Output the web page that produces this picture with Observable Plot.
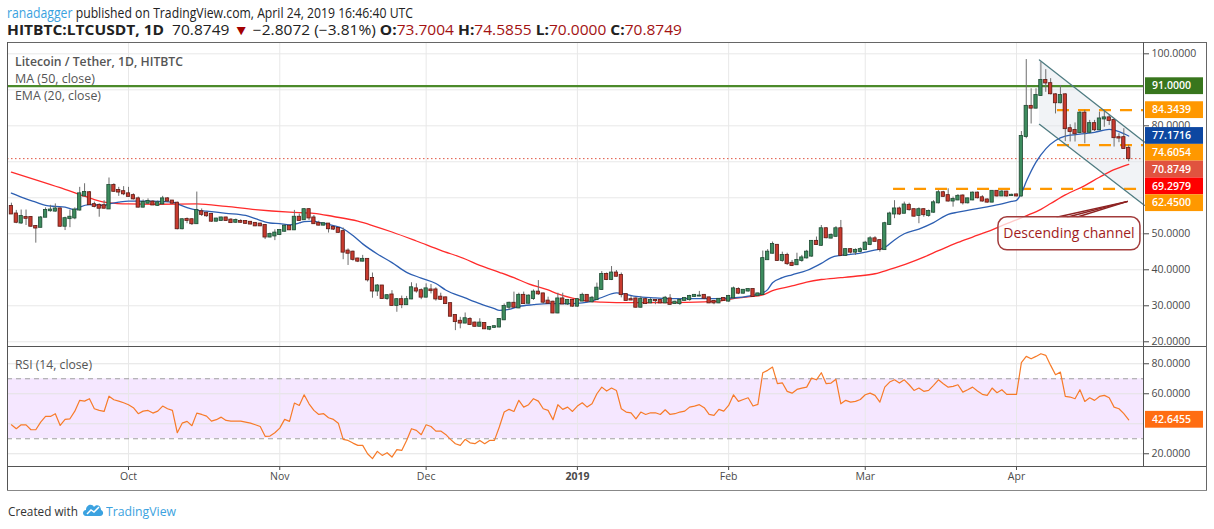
<!DOCTYPE html>
<html><head><meta charset="utf-8">
<script src="https://cdn.jsdelivr.net/npm/d3@7"></script>
<script src="https://cdn.jsdelivr.net/npm/@observablehq/plot@0.6"></script>
<style>
body{margin:0;background:#fff;font-family:"Open Sans",sans-serif;}
#wrap{position:relative;width:1214px;height:529px;overflow:hidden;background:#fff}
.abs{position:absolute;white-space:nowrap;line-height:16px}
.ln{position:absolute;background:#555}
svg{max-width:none !important}
</style></head><body><div id="wrap"></div><script>
// ---------- DATA ----------
const firstCandle = "2018-09-07";
const opens = [57.6,55.5,53.0,54.5,54.5,52.0,51.8,54.6,56.4,56.3,56.9,52.1,54.2,54.4,56.6,60.5,61.4,58.1,57.9,57.8,56.9,63.4,62.0,61.7,61.1,60.6,59.7,57.4,58.5,58.8,57.9,58.3,59.7,59.1,58.5,51.4,54.0,53.9,52.8,
56.1,55.7,55.4,53.5,53.7,54.4,53.8,53.2,53.4,53.4,53.2,52.9,52.7,52.3,49.1,49.4,49.8,50.7,52.1,51.1,54.6,53.9,56.7,54.4,52.9,52.4,52.7,51.8,51.5,50.6,45.2,44.9,43.0,42.4,42.9,37.6,34.1,35.5,32.0,
33.0,30.1,31.7,30.3,31.9,34.7,34.2,32.4,34.4,34.4,32.4,32.2,30.6,27.3,25.7,25.2,26.2,25.2,24.3,25.1,23.5,24.0,24.1,26.1,29.6,30.7,29.4,32.9,30.7,32.0,33.8,33.3,31.3,31.0,28.0,31.9,30.5,31.5,29.9,
31.3,32.9,31.1,31.7,34.5,38.7,37.3,39.1,38.4,33.1,31.7,31.9,29.6,31.7,30.8,31.5,31.5,30.8,31.9,30.6,30.6,31.5,31.7,32.6,32.7,32.9,32.2,31.2,30.8,32.0,31.3,32.2,34.5,33.5,34.1,34.5,32.8,33.1,42.8,
44.6,46.8,42.6,44.0,41.8,41.4,42.6,43.3,43.8,47.9,46.8,51.4,48.8,49.3,51.4,44.0,45.6,44.9,45.1,45.6,47.0,48.6,48.1,45.6,52.6,55.5,56.9,55.7,57.9,56.7,55.1,56.7,55.1,56.0,58.6,61.4,60.6,59.1,59.4,
60.5,58.6,59.4,61.3,60.0,59.4,58.8,61.8,60.5,61.6,60.6,60.8,60.5,77.0,85.4,84.9,88.4,92.6,91.7,88.6,86.4,88.6,79.2,78.7,78.1,83.5,78.2,80.6,78.9,81.9,82.2,81.5,76.7,76.7,73.7004];
const highs = [58.5,56.5,56.6,56.6,54.8,52.3,54.8,57.2,57.9,58.3,57.2,54.6,56.6,57.2,62.9,63.9,61.7,58.8,58.3,59.2,65.5,63.9,62.9,63.1,62.9,61.1,60.2,59.4,59.7,59.2,59.1,60.4,60.0,59.2,58.8,54.2,54.4,54.2,61.6,
56.9,56.0,55.6,54.3,54.6,54.6,54.2,54.1,53.9,53.6,53.4,53.1,52.9,52.5,50.2,51.1,51.1,52.4,52.4,56.5,55.5,57.0,57.0,55.1,53.5,52.9,52.8,52.0,51.7,51.6,45.8,45.2,43.2,44.0,43.0,39.1,35.9,35.6,33.1,
34.2,32.0,32.7,32.6,36.4,36.1,34.7,36.1,35.9,35.0,33.5,32.4,30.7,27.5,26.8,28.0,26.7,25.5,26.4,25.3,24.2,24.3,26.4,30.5,31.0,33.8,33.5,33.8,33.0,34.4,37.0,33.5,32.4,31.3,33.5,33.5,31.7,31.7,32.0,
33.5,33.1,32.6,36.3,39.5,39.1,40.9,39.8,39.1,33.3,32.6,32.2,32.6,32.1,32.0,31.6,31.6,32.6,33.1,31.3,32.0,32.2,32.9,33.1,34.0,33.1,32.4,31.5,32.0,32.2,32.9,35.2,35.0,34.5,34.7,34.7,33.5,45.2,45.6,
47.7,47.0,44.9,44.6,42.6,44.6,44.0,45.4,48.1,49.1,52.3,51.7,50.0,52.0,53.7,45.8,45.8,45.8,46.1,47.9,49.2,49.2,48.3,53.2,56.0,59.2,57.4,58.8,58.5,56.9,57.2,56.9,56.6,59.2,62.0,61.8,62.5,60.2,60.9,
60.8,59.9,61.6,61.6,60.6,59.7,62.0,62.0,62.0,61.8,61.0,61.0,78.4,98.4,90.3,90.3,97.7,95.6,93.1,88.9,91.2,88.9,80.3,80.8,84.0,84.3,81.5,81.5,83.8,84.3,82.9,81.9,77.8,79.2,74.5855];
const lows = [55.4,52.8,52.6,52.3,51.8,47.4,51.7,54.6,56.0,56.0,51.8,50.9,51.7,53.9,56.3,60.4,57.9,57.2,54.6,56.9,56.9,61.6,60.4,60.6,60.2,59.4,57.2,57.2,58.3,57.9,57.6,58.0,58.8,58.3,51.1,51.1,52.8,52.3,52.6,
54.8,54.6,53.2,53.3,53.5,53.5,53.0,52.9,52.9,52.7,52.5,52.0,52.0,48.4,48.9,48.1,49.5,50.5,50.9,50.9,53.5,53.7,53.7,52.6,52.2,52.2,50.2,50.9,50.2,42.8,41.2,42.4,42.0,42.2,36.6,32.1,32.6,31.9,31.5,
29.9,28.2,29.2,30.1,31.7,33.5,31.7,32.2,33.3,31.3,31.5,30.4,27.0,23.1,23.6,25.0,24.6,24.1,24.2,23.4,23.1,23.8,23.9,25.9,28.7,29.4,29.2,30.4,30.5,31.5,32.9,30.4,30.4,27.8,27.8,30.4,30.1,29.6,29.6,
31.3,31.1,30.8,31.5,34.3,37.0,37.0,38.0,32.2,31.3,31.5,29.4,29.4,30.4,30.6,30.3,30.6,30.6,30.2,30.4,30.1,31.3,31.3,32.4,32.5,31.7,30.6,30.3,30.6,31.3,31.0,31.9,33.1,33.3,33.8,32.4,32.6,32.9,42.6,
44.4,42.4,42.1,41.2,40.9,41.2,42.1,43.0,43.5,46.8,46.5,48.6,48.6,49.0,43.7,43.7,44.4,44.0,44.7,45.4,46.7,47.7,44.9,45.4,52.3,54.2,55.1,55.6,56.3,54.6,52.8,54.6,54.6,55.7,58.3,60.2,58.8,57.4,59.2,
58.0,58.3,59.2,59.7,58.8,58.5,58.6,60.2,60.4,60.2,60.4,60.3,60.2,76.4,80.5,84.7,88.2,89.3,88.6,83.3,86.1,75.6,75.5,75.5,77.8,75.0,77.8,78.4,78.7,79.6,80.1,74.1,75.3,73.6,70.0];
const closes = [55.5,53.2,54.8,54.3,52.1,51.6,54.4,56.5,56.6,56.9,52.1,54.2,54.6,56.6,61.1,61.5,58.1,57.6,57.1,57.1,63.4,61.8,61.6,61.1,60.4,59.7,57.4,58.7,59.0,58.0,58.6,59.7,59.1,58.5,51.4,53.9,53.7,52.8,56.5,
55.4,55.0,53.5,54.1,54.4,53.7,53.1,53.7,53.2,52.9,52.7,52.2,52.2,49.1,49.8,50.2,50.9,52.1,51.1,54.6,53.7,56.7,54.4,52.8,52.4,52.8,51.4,51.3,50.4,44.9,44.6,42.9,42.4,42.9,37.2,34.1,35.5,32.0,32.8,
30.1,31.7,30.3,31.7,35.0,34.1,32.4,34.7,34.2,31.9,31.8,30.6,27.1,25.6,25.2,26.4,24.8,24.3,25.2,23.6,24.0,24.2,26.2,29.8,30.7,29.6,32.9,30.6,32.7,33.8,33.3,31.0,30.7,28.0,31.9,30.5,31.5,29.9,31.7,
32.9,31.3,32.1,34.9,38.7,37.3,39.1,38.2,33.1,31.5,31.6,29.6,31.8,30.6,31.5,31.4,30.8,32.1,30.4,31.0,31.5,32.0,32.6,32.9,32.7,32.1,30.8,30.8,31.8,31.5,32.6,34.7,33.5,34.3,34.5,32.6,33.3,43.1,44.9,
47.0,42.6,44.0,41.7,41.2,42.6,43.3,44.9,47.9,47.0,51.4,48.9,49.5,51.4,44.0,45.6,44.9,45.4,45.6,47.4,48.6,47.9,45.6,52.8,55.5,56.9,55.5,58.0,56.7,54.9,56.7,55.3,56.2,58.6,61.4,60.4,59.1,59.5,60.4,
58.6,59.7,61.3,60.0,59.1,58.8,61.8,60.5,61.6,60.5,60.7,60.5,77.0,85.4,84.9,88.4,92.6,91.9,88.9,86.4,88.4,79.2,78.4,77.8,83.5,78.2,80.6,78.9,81.9,82.2,81.5,76.7,76.6,73.68,70.8749];
const rsiValues = [39.3,36.7,39.3,39.3,36.0,36.0,41.1,44.9,44.9,46.7,
38.9,42.9,43.3,48.4,55.6,55.1,56.7,50.0,48.9,48.2,
58.4,56.0,55.1,54.0,52.7,50.7,46.7,48.4,48.9,47.1,
48.4,51.8,50.0,48.9,34.0,40.4,41.6,38.7,47.1,46.2,
45.1,41.8,42.7,44.4,42.2,41.8,41.8,41.8,41.1,40.4,
39.3,38.2,31.6,31.8,34.0,37.1,42.9,41.6,53.8,52.2,
59.3,53.3,48.9,46.2,46.7,44.0,42.9,40.4,29.6,28.9,
27.1,25.6,25.6,20.0,16.7,21.6,18.9,20.7,17.8,22.7,
22.2,28.9,36.7,35.6,32.7,39.3,38.2,35.1,35.1,32.9,
29.6,26.7,25.6,29.6,27.3,26.7,28.9,26.7,28.9,28.9,
37.8,47.8,49.6,48.2,55.6,51.1,52.7,56.7,55.1,50.0,
48.9,42.7,52.7,49.6,51.1,48.2,51.8,54.0,51.1,53.3,
60.0,64.4,
61.8,63.8,62.2,50.0,47.8,47.3,43.3,47.8,46.2,47.3,
47.3,46.2,49.3,46.2,46.7,47.8,48.4,51.1,51.8,52.7,
50.7,46.2,45.6,49.6,48.4,52.2,59.3,54.9,56.2,57.3,
51.8,52.9,74.0,75.6,77.8,66.7,67.3,61.6,60.4,62.9,
63.8,64.4,70.4,69.3,74.0,66.7,67.1,69.6,53.3,55.6,
54.4,54.9,56.2,59.3,60.4,58.9,54.4,64.4,67.8,69.3,
67.1,69.3,66.0,62.2,63.8,61.6,62.2,65.6,69.3,66.7,
64.4,64.9,66.0,61.1,62.7,64.4,61.8,59.6,58.9,63.8,
60.7,62.7,59.6,59.6,59.6,80.7,84.9,83.3,84.9,86.7,
85.6,78.9,72.7,74.4,58.2,57.8,56.7,62.7,54.9,57.3,
55.6,58.2,58.9,57.3,51.1,50.0,46.7,42.6455];
// EMA (20) and MA (50) at these candle numbers
const emaDays = [0,3,5,7,9,11,13,14,16,19,20,22,24,28,33,34,36,38,40,44,48,50,53,55,57,59,60,62,63,66,68,70,72,75,78,81,84,87,89,93,96,99,100,102,104,107,110,113,115,117,119,121,124,126,128,132,135,145,149,152,154,155,156,158,160,163,166,168,170,173,175,178,179,181,183,186,189,192,194,197,200,203,205,206,207,208,210,212,214,216,220,222,225,227,229];
const emaValues = [61.3,59.7,58.8,57.9,57.6,57.4,56.7,57.4,58.1,57.9,58.3,58.8,59.1,59.1,58.8,58.3,57.3,56.6,56.3,55.7,55.1,54.2,53.0,52.8,52.5,53.0,53.4,53.5,53.2,52.3,51.4,49.5,47.2,44.4,42.0,39.3,37.7,36.2,34.4,32.2,30.6,29.2,28.7,29.0,29.8,30.3,30.6,30.6,30.6,30.8,31.3,32.3,33.6,33.2,32.6,32.2,32.0,32.0,32.3,32.9,33.6,34.5,36.4,37.8,38.6,39.8,41.8,43.4,44.0,44.4,44.9,45.8,46.2,48.3,50.0,51.3,53.1,55.4,56.0,56.8,57.5,58.3,59.0,59.3,61.3,64.5,69.9,73.6,75.9,77.1,77.8,78.2,79.0,78.4,77.1716];
const maDays = [0,5,10,14,17,20,24,30,38,44,50,57,62,66,71,74,78,83,88,93,96,100,103,106,110,112,115,118,121,124,135,142,145,149,152,154,156,160,163,166,170,173,177,180,184,187,190,194,197,201,204,208,211,213,216,220,223,226,229];
const maValues = [67.1,65.0,62.8,60.9,59.5,58.6,58.3,58.2,58.3,57.6,56.7,56.0,55.7,54.8,53.5,52.3,50.5,48.0,45.4,43.0,41.2,39.3,37.8,36.1,34.4,33.3,32.1,31.3,31.0,30.9,30.9,31.1,31.3,32.2,32.6,33.0,34.2,35.5,36.6,37.3,37.8,38.2,38.9,40.1,41.9,43.5,45.3,47.6,49.1,51.1,52.8,55.0,56.8,58.4,60.8,63.4,65.7,67.8,69.2979];
// drawings (candle numbers / prices)
const supportLevel = 91;
const rangeLevels = [84.3439, 74.6054];
const rangeStartDay = 214.4;
const baseLevel = 62.45;
const baseStartDay = 180.8;
const channelDays = [210.7, 232.2];
const channelUpper = [98.3, 75.5];
const channelLower = [80.4, 57.9];
const noteText = "Descending channel";
const noteDays = [202.3, 231.4];
const notePrices = [45.4, 54.6];
const noteArrowFrom = [214.2, 216.3, 218.3];
const noteArrowFromPrice = 54.6;
const noteArrowTo = [228.8, 59.0];
// axes
const priceGrid = [20,30,40,50,60,70,80,90,100];
const priceTickLabels = [20,30,40,50,80,100];
const rsiGrid = [20,40,60,80];
const rsiTickLabels = [20,60,80];
const monthTicks = ["2018-10-01","2018-11-01","2018-12-01","2019-01-01","2019-02-01","2019-03-01","2019-04-01"];
const monthLabels = ["Oct","Nov","Dec","2019","Feb","Mar","Apr"];
const priceLabels = [91, 84.3439, 77.1716, 74.6054, 70.8749, 69.2979, 62.45];
const priceLabelColors = ["#38761d","#ff9800","#0d47a1","#ff9800","#e0533f","#ff0000","#ff9800"];
const rsiLast = 42.6455;

// ---------- BUILD ----------
const DAY = 864e5;
const t0 = Date.parse(firstCandle + "T00:00:00Z");
const dateAt = i => new Date(t0 + i * DAY);
const oct1 = Date.UTC(2018, 9, 1);
const xDomain = [new Date(oct1 - 24.8 * DAY), new Date(oct1 + 208.03 * DAY)];
const candles = opens.map((o, i) => ({date: dateAt(i), o, h: highs[i], l: lows[i], c: closes[i]}));
const up = candles.filter(d => d.c >= d.o), down = candles.filter(d => d.c < d.o);
const ema = emaDays.map((d, i) => ({date: dateAt(d), v: emaValues[i]}));
const ma = maDays.map((d, i) => ({date: dateAt(d), v: maValues[i]}));
const rsi = rsiValues.map((v, i) => ({date: dateAt(i), v}));
const months = monthTicks.map(s => new Date(s + "T00:00:00Z"));
const lastClose = closes[closes.length - 1];
const font = "'Open Sans', sans-serif";

const body = (arr, fill, stroke) => Plot.rect(arr, {
  x1: d => new Date(+d.date - 0.34 * DAY), x2: d => new Date(+d.date + 0.34 * DAY),
  y1: d => Math.min(d.o, d.c), y2: d => Math.max(d.o, d.c),
  fill, stroke, strokeWidth: 0.8, insetTop: -0.5, insetBottom: -0.5
});

const main = Plot.plot({
  width: 1214, height: 304, marginLeft: 7, marginRight: 71, marginTop: 0, marginBottom: 0,
  style: {fontFamily: font, fontSize: "10.5px", color: "#4a4a4a", background: "transparent", overflow: "visible"},
  x: {type: "utc", domain: xDomain, axis: null},
  y: {domain: [18.69, 103.14], axis: "right", ticks: priceTickLabels, tickFormat: d => d.toFixed(4), tickSize: 5, tickPadding: 3, label: null},
  marks: [
    Plot.ruleY(priceGrid, {stroke: "#e8e8e8"}),
    Plot.ruleX(months, {stroke: "#e8e8e8"}),
    Plot.areaY([0, 1], {x: i => dateAt(channelDays[i]), y1: i => channelLower[i], y2: i => channelUpper[i], fill: "#dfe4ea", fillOpacity: 0.45}),
    Plot.ruleY([supportLevel], {stroke: "#4b8a2a", strokeWidth: 2.2}),
    Plot.ruleY(rangeLevels, {x1: dateAt(rangeStartDay), x2: xDomain[1], stroke: "#ff9800", strokeWidth: 2.2, strokeDasharray: "12,9"}),
    Plot.ruleY([baseLevel], {x1: dateAt(baseStartDay), x2: xDomain[1], stroke: "#ff9800", strokeWidth: 2.2, strokeDasharray: "12,9"}),
    Plot.ruleY([lastClose], {stroke: "#e0533f", strokeWidth: 1, strokeDasharray: "1.5,2.5"}),
    Plot.line(ma, {x: "date", y: "v", stroke: "#ff2b2b", strokeWidth: 1.3, curve: "monotone-x"}),
    Plot.line(ema, {x: "date", y: "v", stroke: "#2d5fb2", strokeWidth: 1.3, curve: "monotone-x"}),
    Plot.ruleX(candles, {x: "date", y1: "l", y2: "h", stroke: "#6e6e6e", strokeWidth: 1}),
    body(up, "#3d8c5e", "#1e4a33"),
    body(down, "#c83a2e", "#5e1a14"),
    Plot.line([0, 1], {x: i => dateAt(channelDays[i]), y: i => channelUpper[i], stroke: "#4f7c82", strokeWidth: 1.3}),
    Plot.line([0, 1], {x: i => dateAt(channelDays[i]), y: i => channelLower[i], stroke: "#4f7c82", strokeWidth: 1.3}),
    Plot.link(noteArrowFrom, {x1: d => dateAt(d), y1: () => noteArrowFromPrice, x2: () => dateAt(noteArrowTo[0]), y2: () => noteArrowTo[1], stroke: "#8e2323", strokeWidth: 1.4})
  ]
});

const rsiPlot = Plot.plot({
  width: 1214, height: 145, marginLeft: 7, marginRight: 71, marginTop: 0, marginBottom: 25,
  style: {fontFamily: font, fontSize: "10.5px", color: "#4a4a4a", background: "transparent", overflow: "visible"},
  x: {type: "utc", domain: xDomain, axis: "bottom", ticks: months, tickSize: 4, tickPadding: 2, label: null,
      tickFormat: d => monthLabels[months.findIndex(m => +m === +d)]},
  y: {domain: [11.5, 91.5], axis: "right", ticks: rsiTickLabels, tickFormat: d => d.toFixed(4), tickSize: 5, tickPadding: 3, label: null},
  marks: [
    Plot.rect([0], {x1: () => xDomain[0], x2: () => xDomain[1], y1: () => 30, y2: () => 70, fill: "#9915ff", fillOpacity: 0.1}),
    Plot.ruleY(rsiGrid, {stroke: "#e3e3e3"}),
    Plot.ruleX(months, {stroke: "#e8e8e8"}),
    Plot.ruleY([70, 30], {stroke: "#a0a0a0", strokeDasharray: "5,4"}),
    Plot.line(rsi, {x: "date", y: "v", stroke: "#f77b29", strokeWidth: 1.2})
  ]
});

const wrap = document.getElementById("wrap");
main.style.position = "absolute"; main.style.left = "0px"; main.style.top = "42px";
rsiPlot.style.position = "absolute"; rsiPlot.style.left = "0px"; rsiPlot.style.top = "346px";
wrap.appendChild(main); wrap.appendChild(rsiPlot);

// price labels on the right scale (stacked like the original)
const sy = main.scale("y"), sx = main.scale("x");
const gm = d3.select(main).append("g");
let prev = -1e9;
priceLabels.forEach((v, i) => {
  let y = Math.max(sy.apply(v), prev + 16.8); prev = y;
  gm.append("rect").attr("x", 1145).attr("y", y - 8.4).attr("width", 58).attr("height", 16.8).attr("fill", priceLabelColors[i]);
  gm.append("text").attr("x", 1152).attr("y", y).attr("dy", "0.35em").attr("text-anchor", "start").attr("fill", "#fff").attr("font-size", 10.5).attr("font-weight", 600).attr("font-family", font).text(v.toFixed(4));
});
// note box
const bx1 = sx.apply(dateAt(noteDays[0])), bx2 = sx.apply(dateAt(noteDays[1]));
const by1 = sy.apply(notePrices[1]), by2 = sy.apply(notePrices[0]);
gm.append("rect").attr("x", bx1).attr("y", by1).attr("width", bx2 - bx1).attr("height", by2 - by1).attr("rx", 9)
  .attr("fill", "#fff").attr("fill-opacity", 0.75).attr("stroke", "#a23b3b").attr("stroke-width", 1.5);
gm.append("text").attr("x", (bx1 + bx2) / 2).attr("y", (by1 + by2) / 2).attr("dy", "0.35em").attr("text-anchor", "middle")
  .attr("fill", "#a11c1c").attr("font-size", 14).attr("font-family", font).text(noteText);

// RSI last-value label
const ry = rsiPlot.scale("y").apply(rsiLast);
const gr = d3.select(rsiPlot).append("g");
gr.append("rect").attr("x", 1145).attr("y", ry - 8.4).attr("width", 58).attr("height", 16.8).attr("fill", "#ff6d12");
gr.append("text").attr("x", 1152).attr("y", ry).attr("dy", "0.35em").attr("text-anchor", "start").attr("fill", "#fff").attr("font-size", 10.5).attr("font-weight", 600).attr("font-family", font).text(rsiLast.toFixed(4));
d3.select(rsiPlot).selectAll("text").filter(function(){ return this.textContent === "2019"; }).attr("font-weight", "bold");

// frame lines
function line(x, y, w, h, c) { const d = document.createElement("div"); d.className = "ln"; Object.assign(d.style, {left: x + "px", top: y + "px", width: w + "px", height: h + "px"}); if (c) d.style.background = c; wrap.appendChild(d); }
line(7, 42, 1200, 1, "#666"); line(7, 346, 1200, 1, "#555"); line(7, 466, 1200, 1, "#555"); line(7, 490, 1200, 1, "#888");
line(7, 42, 1, 448, "#555"); line(1206, 42, 1, 448, "#666"); line(1143, 42, 1, 424, "#555");

// texts
function txt(html, x, y, style, fitW) {
  const d = document.createElement("div"); d.className = "abs"; d.innerHTML = html;
  Object.assign(d.style, {left: x + "px", top: y + "px"}, style); wrap.appendChild(d);
  if (fitW) { const w = d.getBoundingClientRect().width; d.style.transformOrigin = "0 50%"; d.style.transform = `scaleX(${fitW / w})`; }
  return d;
}
const red = s => `<span style="color:#a31212">${s}</span>`;
txt(`<span style="color:#3ba2e0">ranadagger</span> published on TradingView.com, April 24, 2019 16:46:40 UTC`, 7, 5, {fontSize: "14px", color: "#222"}, 406);
txt(`<b>HITBTC:LTCUSDT, 1D</b>&nbsp; 70.8749 <span style="color:#a30000">▼</span> −2.8072 (−3.81%) <b>O:</b>${red("73.7004")} <b>H:</b>${red("74.5855")} <b>L:</b>${red("70.0000")} <b>C:</b>${red("70.8749")}`, 7, 22, {fontSize: "14px", color: "#222"}, 675);
txt(`Litecoin / Tether, 1D, HITBTC`, 15, 53, {fontSize: "13px", color: "#555", fontWeight: 600}, 168);
txt(`MA (50, close)`, 15, 70, {fontSize: "13px", color: "#555"}, 80);
txt(`EMA (20, close)`, 15, 87, {fontSize: "13px", color: "#555"}, 86);
txt(`RSI (14, close)`, 15, 356, {fontSize: "13px", color: "#555"}, 77);
txt(`Created with`, 8, 503, {fontSize: "13px", color: "#333"}, 70);
txt(`TradingView`, 106, 503, {fontSize: "13px", color: "#3ba2e0"}, 70);
txt(`<svg width="22" height="14" viewBox="0 0 22 14"><path d="M4 13 C0 13 0 7 4 7 C4 2 10 0 12 4 C14 1 19 2 19 7 C22 8 22 13 18 13 Z" fill="#3ba2e0"/><path d="M5 11 L9 7 L12 9 L17 4" stroke="#fff" stroke-width="1.5" fill="none"/></svg>`, 82, 503, {});
</script></body></html>
